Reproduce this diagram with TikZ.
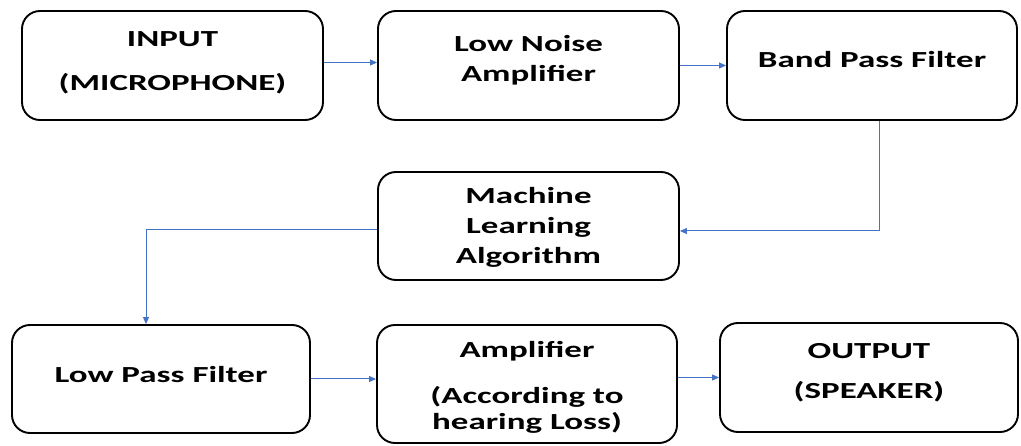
\documentclass[tikz,border=0pt]{standalone}
\usepackage{fontspec}
\newfontfamily\boxfont{Carlito}[FakeStretch=1.52]
\usetikzlibrary{arrows.meta}
\definecolor{linkblue}{HTML}{4472C4}
\begin{document}
\begin{tikzpicture}[x=1pt,y=-1pt,
  box/.style 2 args={draw=black,line width=1.9pt,rounded corners=18pt,
    minimum width=#1pt,minimum height=#2pt,inner sep=0pt},
  txt/.style={align=center,inner sep=0pt,
    font=\boxfont\bfseries\fontsize{23}{26.4}\selectfont},
  arr/.style={draw=linkblue,line width=1pt,
    -{Triangle[length=7pt,width=6pt]}}]
\useasboundingbox (0,0) rectangle (1021,446);

% boxes
\node[box={301}{109}] (in)  at (172.5,65.5) {};
\node[box={301}{109}] (lna) at (528.5,65.5) {};
\node[box={290}{109}] (bpf) at (872,65.5) {};
\node[box={301}{108}] (ml)  at (528.5,226) {};
\node[box={298}{108}] (lpf) at (161,379) {};
\node[box={300}{118}] (amp) at (527,384) {};
\node[box={298}{109}] (out) at (869,377.5) {};

% texts
\node[txt] (inT)  at (172.5,62.5) {INPUT\\[18pt](MICROPHONE)};
\node[txt] (lnaT) at (528.5,60) {Low Noise\\[3.6pt]Amplifier};
\node[txt] (bpfT) at (872,60) {Band Pass Filter};
\node[txt] (mlT)  at (528.5,227) {Machine\\[3.6pt]Learning\\[3.6pt]Algorithm};
\node[txt] (lpfT) at (161,374.5) {Low Pass Filter};
\node[txt] (ampT) at (527,387.5) {Amplifier\\[19pt](According to\\hearing Loss)};
\node[txt] (outT) at (869,372.5) {OUTPUT\\[14pt](SPEAKER)};

% connectors
\draw[arr] ([yshift=3pt]in.east) -- ([yshift=3pt]in.east -| lna.west);
\draw[arr] (lna.east) -- (bpf.west);
\draw[arr] ([xshift=7pt]bpf.south) |- ([yshift=-5pt]ml.east);
\draw[arr] ([yshift=-4pt]ml.west) -| ([xshift=-15pt]lpf.north);
\draw[arr] (lpf.east) -- (lpf.east -| amp.west);
\draw[arr] (amp.east |- out.west) -- (out.west);
\end{tikzpicture}
\end{document}
